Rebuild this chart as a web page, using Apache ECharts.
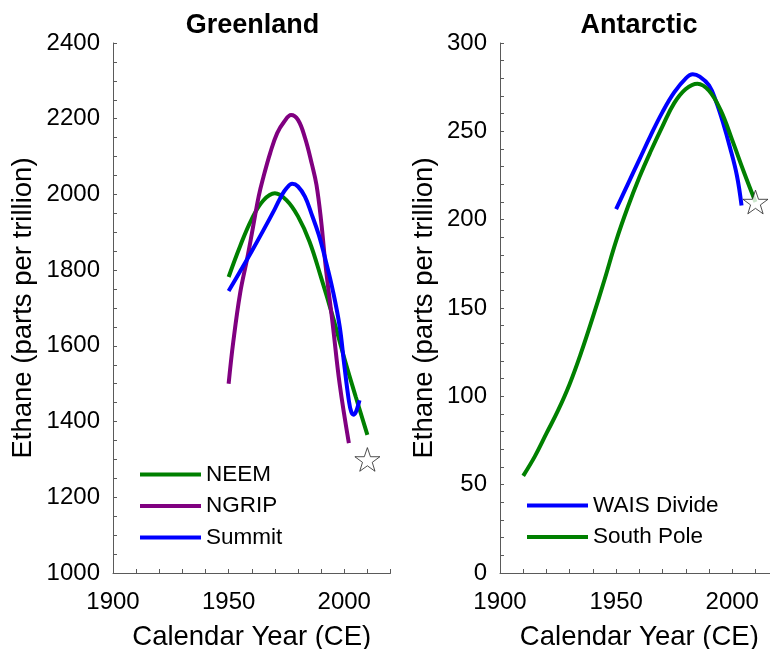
<!DOCTYPE html>
<html>
<head>
<meta charset="utf-8">
<script src="https://cdn.jsdelivr.net/npm/echarts@6/dist/echarts.min.js"></script>
<style>
  html, body { margin: 0; padding: 0; background: #fff; }
  #chart { width: 770px; height: 649px; }
</style>
</head>
<body>
<div id="chart"></div>
<script>
// Greenland ice cores: ethane (ppt) by calendar year
const neemYears   = [1950, 1955, 1960, 1965, 1970, 1975, 1980, 1985, 1990, 1995, 2000, 2005, 2010];
const neemPpt     = [1782, 1864, 1935, 1984, 2003, 1985, 1942, 1875, 1780, 1678, 1568, 1465, 1365];

const ngripYears  = [1950, 1952, 1955, 1958, 1960, 1963, 1965, 1968, 1971, 1974, 1977, 1980, 1983, 1986, 1988, 1990, 1992, 1995, 1998, 2002];
const ngripPpt    = [1500, 1610, 1740, 1830, 1895, 1995, 2045, 2110, 2162, 2192, 2210, 2197, 2150, 2080, 2025, 1930, 1808, 1658, 1500, 1343];

const summitYears = [1950, 1955, 1960, 1965, 1970, 1973, 1975, 1977.5, 1980, 1983, 1986, 1989, 1992, 1995, 1998, 2000, 2002, 2003, 2004, 2005, 2006, 2006.6];
const summitPpt   = [1745, 1797, 1850, 1905, 1962, 1998, 2016, 2028, 2021, 1994, 1946, 1893, 1825, 1748, 1652, 1550, 1455, 1426, 1418, 1425, 1443, 1456];

// Antarctic firn records
const waisYears   = [1950, 1955, 1960, 1965, 1970, 1975, 1980, 1983, 1986, 1990, 1993, 1996, 1999, 2002, 2004];
const waisPpt     = [206, 220, 234, 248, 261, 272, 280, 282.3, 281, 276, 267, 255, 241, 225, 208];

const spYears     = [1910, 1915, 1920, 1925, 1930, 1935, 1940, 1945, 1950, 1955, 1960, 1965, 1970, 1975, 1980, 1985, 1990, 1995, 2000, 2005, 2010];
const spPpt       = [55, 66, 79, 92, 107, 125, 145, 166, 188, 207, 224, 239, 253, 266, 274, 277, 273, 262, 245, 227, 210];

// Modern atmospheric reference values (open stars)
const greenlandStar = [2010, 1300];
const antarcticStar = [2010, 210];

const legendGreenland = ['NEEM', 'NGRIP', 'Summit'];
const legendAntarctic = ['WAIS Divide', 'South Pole'];

const GREEN = '#008000', PURPLE = '#800080', BLUE = '#0000ff';
const FONT = '"Liberation Sans", Arial, Helvetica, sans-serif';
const AXIS_GREY = '#5a5a5a';

const pairs = (xs, ys) => xs.map((x, i) => [x, ys[i]]);
const STAR = 'path://M50,0 L61.8,35.1 L98.1,35.1 L68.8,56.7 L79.4,91 L50,70 L20.6,91 L31.2,56.7 L1.9,35.1 L38.2,35.1 Z';

function xAxisFor(gridIndex) {
  return {
    type: 'value', gridIndex, min: 1900, max: 2020, interval: 10,
    name: 'Calendar Year (CE)', nameLocation: 'middle', nameGap: 50,
    nameTextStyle: { fontSize: 27.5, color: '#000', fontFamily: FONT },
    axisLine: { show: true, lineStyle: { color: AXIS_GREY, width: 1 } },
    axisTick: { show: true, inside: true, length: 4, lineStyle: { color: AXIS_GREY } },
    axisLabel: {
      margin: 17, fontSize: 24, color: '#000', fontFamily: FONT,
      formatter: v => (v % 50 === 0 && v <= 2000) ? String(v) : ''
    },
    splitLine: { show: false }
  };
}

function yAxisFor(gridIndex, min, max, interval, labelStep, nameGap) {
  return {
    type: 'value', gridIndex, min, max, interval,
    name: 'Ethane (parts per trillion)', nameLocation: 'middle', nameGap,
    nameRotate: 90,
    nameTextStyle: { fontSize: 27.5, color: '#000', fontFamily: FONT },
    axisLine: { show: true, lineStyle: { color: AXIS_GREY, width: 1 } },
    axisTick: { show: true, inside: true, length: 4, lineStyle: { color: AXIS_GREY } },
    axisLabel: {
      margin: 13, fontSize: 24, color: '#000', fontFamily: FONT,
      formatter: v => (v % labelStep === 0) ? String(v) : ''
    },
    splitLine: { show: false }
  };
}

function lineSeries(name, xs, ys, color, idx) {
  return {
    name, type: 'line', xAxisIndex: idx, yAxisIndex: idx,
    data: pairs(xs, ys), smooth: 0.4, showSymbol: false, symbol: 'none',
    lineStyle: { color, width: 4 }, itemStyle: { color },
    emphasis: { disabled: true }, z: 3
  };
}

function starSeries(point, idx) {
  return {
    type: 'scatter', xAxisIndex: idx, yAxisIndex: idx,
    data: [point], symbol: STAR, symbolSize: 25, symbolKeepAspect: true,
    itemStyle: { color: '#fff', borderColor: '#222', borderWidth: 1 },
    emphasis: { disabled: true }, z: 5
  };
}

const legendBase = {
  orient: 'vertical', icon: 'rect', itemWidth: 61, itemHeight: 4,
  itemGap: 8.5, padding: 0, selectedMode: false,
  textStyle: { fontSize: 22.5, color: '#000', fontFamily: FONT }
};

const chart = echarts.init(document.getElementById('chart'), null, { renderer: 'canvas' });
chart.setOption({
  animation: false,
  backgroundColor: '#fff',
  grid: [
    { left: 113, top: 43, width: 277.5, height: 530, outerBoundsMode: 'none', containLabel: false },
    { left: 500, top: 43, width: 278.7, height: 530, outerBoundsMode: 'none', containLabel: false }
  ],
  xAxis: [xAxisFor(0), xAxisFor(1)],
  yAxis: [
    yAxisFor(0, 1000, 2400, 50, 200, 76),
    yAxisFor(1, 0, 300, 10, 50, 62)
  ],
  legend: [
    Object.assign({}, legendBase, { data: legendGreenland, left: 140, top: 463 }),
    Object.assign({}, legendBase, { data: legendAntarctic, left: 527, top: 494 })
  ],
  graphic: [
    { type: 'text', x: 252.5, y: 26, style: { text: 'Greenland', align: 'center', verticalAlign: 'middle', font: 'bold 27px ' + FONT, fill: '#000' } },
    { type: 'text', x: 639, y: 26, style: { text: 'Antarctic', align: 'center', verticalAlign: 'middle', font: 'bold 27px ' + FONT, fill: '#000' } }
  ],
  series: [
    lineSeries('NEEM', neemYears, neemPpt, GREEN, 0),
    lineSeries('NGRIP', ngripYears, ngripPpt, PURPLE, 0),
    lineSeries('Summit', summitYears, summitPpt, BLUE, 0),
    starSeries(greenlandStar, 0),
    lineSeries('WAIS Divide', waisYears, waisPpt, BLUE, 1),
    lineSeries('South Pole', spYears, spPpt, GREEN, 1),
    starSeries(antarcticStar, 1)
  ]
});
</script>
</body>
</html>
